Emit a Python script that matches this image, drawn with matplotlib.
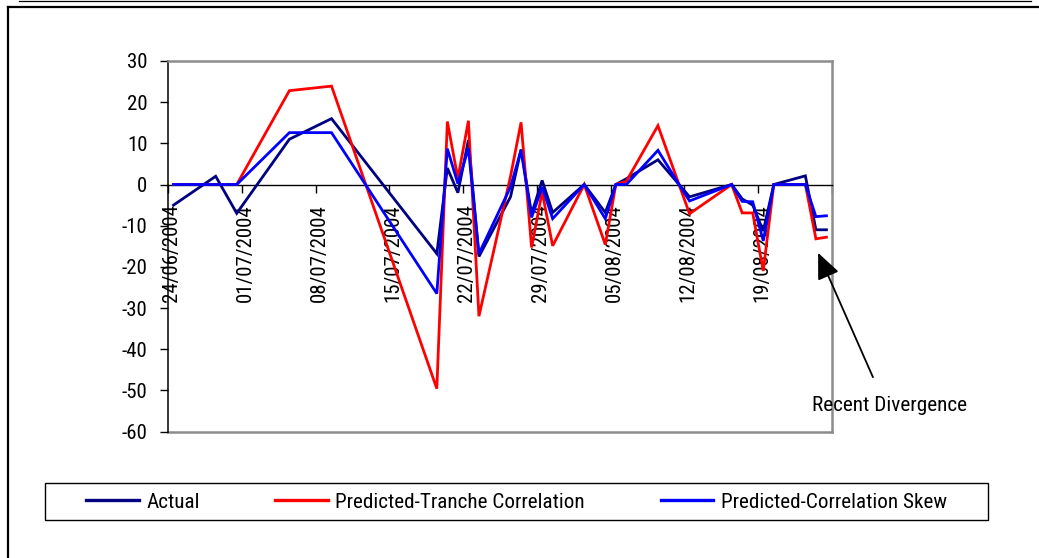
import matplotlib
matplotlib.use("Agg")
import matplotlib.pyplot as plt
import matplotlib.transforms as mtransforms
from matplotlib.lines import Line2D
from matplotlib.patches import Rectangle
from matplotlib import font_manager
from datetime import datetime, timedelta

# ---- data -------------------------------------------------------------
obs_dates = [
    "24/06/2004", "28/06/2004", "30/06/2004", "05/07/2004", "09/07/2004",
    "19/07/2004", "20/07/2004", "21/07/2004", "22/07/2004", "23/07/2004",
    "26/07/2004", "27/07/2004", "28/07/2004", "29/07/2004", "30/07/2004",
    "02/08/2004", "04/08/2004", "05/08/2004", "06/08/2004", "09/08/2004",
    "11/08/2004", "12/08/2004", "16/08/2004", "17/08/2004", "18/08/2004",
    "19/08/2004", "20/08/2004", "23/08/2004", "24/08/2004", "25/08/2004",
]
actual = [
    -5, 2, -7, 11, 16,
    -16.8, 4, -2, 10.8, -17.5,
    -3, 8.5, -7.1, 1, -6.8,
    0, -6.8, 0, 1.4, 6,
    0, -3, 0, -3.5, -5,
    -11.3, 0, 2.1, -11, -11,
]
pred_tranche = [
    0, 0, 0, 22.8, 23.9,
    -49.6, 15.3, 1.5, 15.5, -32,
    2, 15.1, -15.3, -1.8, -14.9,
    0, -14.6, 0, 0.8, 14.3,
    0, -7.1, 0, -6.9, -6.9,
    -21, 0, 0, -13.2, -12.8,
]
pred_skew = [
    0, 0, 0, 12.6, 12.6,
    -26.5, 8.7, 0.2, 8.8, -16.8,
    -0.6, 8.4, -8, -0.6, -8.3,
    0, -8.3, 0, 0, 8.3,
    0, -4, 0, -4.1, -4.2,
    -13.7, 0, 0, -7.8, -7.6,
]
series_names = ["Actual", "Predicted-Tranche Correlation", "Predicted-Correlation Skew"]
tick_dates = [
    "24/06/2004", "01/07/2004", "08/07/2004", "15/07/2004", "22/07/2004",
    "29/07/2004", "05/08/2004", "12/08/2004", "19/08/2004", "26/08/2004",
]
tick_labels = tick_dates[:-1] + [""]
y_ticks = [30, 20, 10, 0, -10, -20, -30, -40, -50, -60]
note_text = "Recent Divergence"

# ---- fonts ------------------------------------------------------------
installed = {f.name for f in font_manager.fontManager.ttflist}
family = [n for n in ["Liberation Sans Narrow", "Roboto Condensed", "Liberation Sans"]
          if n in installed] + ["DejaVu Sans"]
plt.rcParams["font.family"] = family
plt.rcParams["axes.unicode_minus"] = False

def parse(s):
    return datetime.strptime(s, "%d/%m/%Y")

# observations are plotted at midday of their date
x = [parse(d) + timedelta(hours=12) for d in obs_dates]
ticks = [parse(d) for d in tick_dates]

W, H = 1039, 558
fig = plt.figure(figsize=(W / 100, H / 100), dpi=100)
ax = fig.add_axes([168.3 / W, 1 - 431.5 / H, (831.7 - 168.3) / W, (431.5 - 61) / H])

# value axis in black, plot-area frame in grey, category axis along zero
gray = "#8c8c8c"
ax.spines["bottom"].set_position(("data", 0))
ax.spines["bottom"].set_color("black")
ax.spines["bottom"].set_linewidth(1.0)
ax.spines["left"].set_color("black")
ax.spines["left"].set_linewidth(1.1)
for s in ("top", "right"):
    ax.spines[s].set_color(gray)
    ax.spines[s].set_linewidth(1.8)
ax.plot([0, 1], [0, 0], transform=ax.transAxes, color=gray, lw=1.8,
        clip_on=False, zorder=1)

colors = ["#000080", "#FF0000", "#0000FF"]
for vals, c, name in zip([actual, pred_tranche, pred_skew], colors, series_names):
    ax.plot(x, vals, color=c, lw=2.0, label=name, solid_joinstyle="miter", zorder=3)

ax.set_xlim(ticks[0], ticks[-1])
ax.set_ylim(-60, 30)
ax.set_yticks(y_ticks)
ax.set_yticklabels([str(v) for v in y_ticks])
ax.set_xticks(ticks)
ax.set_xticklabels(tick_labels)

ax.tick_params(axis="y", direction="out", length=6, width=1, pad=9, labelsize=15)
ax.tick_params(axis="x", direction="out", length=6, width=1, pad=8, labelsize=15,
               labelrotation=90)
offset = mtransforms.ScaledTranslation(3.5 / 100, 0, fig.dpi_scale_trans)
for lab in ax.get_xticklabels():
    lab.set_ha("center")
    lab.set_va("top")
    lab.set_rotation_mode("default")
    lab.set_transform(lab.get_transform() + offset)

# annotation
ax.annotate("", xy=(datetime(2004, 8, 24, 17), -16.6),
            xytext=(datetime(2004, 8, 29, 22), -46.8),
            arrowprops=dict(arrowstyle="-|>,head_length=0.8,head_width=0.35",
                            mutation_scale=20, color="black", lw=1.3,
                            shrinkA=0, shrinkB=0),
            annotation_clip=False)
ax.text(datetime(2004, 8, 24, 3), -53.8, note_text, fontsize=15.3,
        ha="left", va="center", clip_on=False)

# legend
handles = [Line2D([], [], color=c, lw=2.4) for c in colors]
fig.legend(handles, series_names, loc="center",
           bbox_to_anchor=(86 / W, 1 - 512 / H, (947 - 86) / W, 20 / H),
           mode="expand", ncol=3, frameon=False, fontsize=15.2,
           handlelength=2.5, handletextpad=0.35, borderpad=0, borderaxespad=0)
fig.add_artist(Rectangle((45 / W, 1 - 520 / H), (988 - 45) / W, 37 / H,
                         transform=fig.transFigure, fill=False,
                         edgecolor="black", lw=1.0))

# page frame
fig.add_artist(Line2D([19 / W, 1031 / W], [1 - 0.8 / H] * 2,
                      transform=fig.transFigure, color="black", lw=0.9))
fig.add_artist(Line2D([8 / W, 1], [1 - 6.5 / H] * 2,
                      transform=fig.transFigure, color="black", lw=1.6))
fig.add_artist(Line2D([8.3 / W] * 2, [0, 1 - 6.5 / H],
                      transform=fig.transFigure, color="black", lw=1.6))

fig.savefig("out.png", dpi=100)
